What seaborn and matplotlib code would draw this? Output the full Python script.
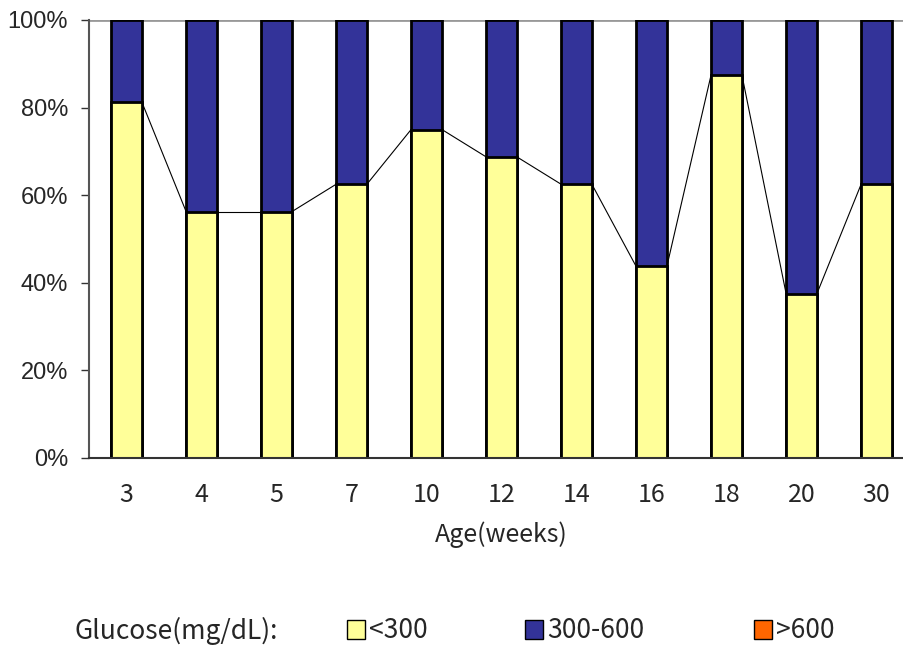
import numpy as np
import pandas as pd
import matplotlib.pyplot as plt
import seaborn as sns
from matplotlib.patches import Patch

# dados (% por idade)
ages = ['3', '4', '5', '7', '10', '12', '14', '16', '18', '20', '30']
low = [81.25, 56.25, 56.25, 62.5, 75.0, 68.75, 62.5, 43.75, 87.5, 37.5, 62.5]      # <300
mid = [18.75, 43.75, 43.75, 37.5, 25.0, 31.25, 37.5, 56.25, 12.5, 62.5, 37.5]      # 300-600
high = [0, 0, 0, 0, 0, 0, 0, 0, 0, 0, 0]                                            # >600

c_low = '#FFFF99'
c_mid = '#333399'
c_high = '#FF6600'

sns.set_style('white')
jp = ['Noto Sans CJK JP', 'DejaVu Sans']
arial = ['Liberation Sans', 'DejaVu Sans']

df = pd.DataFrame({'age': ages, 'low': low, 'mid': mid, 'high': high})
df['top'] = df['low'] + df['mid'] + df['high']

fig = plt.figure(figsize=(9.04, 6.46), dpi=100)
# eixo vai alem da borda direita, como no original
ax = fig.add_axes([89 / 904, 1 - 458 / 646, 825 / 904, 438 / 646])

w = 0.41
sns.barplot(data=df, x='age', y='top', color=c_mid, width=w, edgecolor='black',
            linewidth=2, saturation=1, ax=ax)
sns.barplot(data=df, x='age', y='low', color=c_low, width=w, edgecolor='black',
            linewidth=2, saturation=1, ax=ax)

# linhas de serie entre as barras
for i in range(len(ages) - 1):
    ax.plot([i + w / 2, i + 1 - w / 2], [low[i], low[i + 1]], color='black', lw=0.8)

ax.set_xlim(-0.5, len(ages) - 0.5)
ax.set_ylim(0, 100)
ax.set_yticks(np.arange(0, 101, 20))
ax.set_yticklabels([f'{v}%' for v in range(0, 101, 20)], family=arial, fontsize=17)
ax.set_xticks(range(len(ages)))
ax.set_xticklabels(ages, family=jp, fontsize=18)
ax.set_xticks(np.arange(-0.5, len(ages), 1), minor=True)
ax.tick_params(axis='x', which='major', length=0, pad=17)
ax.tick_params(axis='x', which='minor', length=6, width=1, color='#333333', direction='out')
ax.tick_params(axis='y', length=6, width=1, color='#333333', direction='out', left=True, pad=9)
ax.axhline(100, color='#999999', lw=2, zorder=0)

ax.set_xlabel('Age(weeks)', family=jp, fontsize=18, labelpad=10)
ax.set_ylabel('')

for s in ['top', 'right']:
    ax.spines[s].set_visible(False)
ax.spines['left'].set_color('#555555')
ax.spines['left'].set_linewidth(1.5)
ax.spines['bottom'].set_color('#333333')
ax.spines['bottom'].set_linewidth(1.5)

# legenda
ly = 1 - 631 / 646
fig.text(75 / 904, ly, 'Glucose(mg/dL):', family=jp, fontsize=19, va='center')
handles = [Patch(facecolor=c_low, edgecolor='black', label='<300'),
           Patch(facecolor=c_mid, edgecolor='black', label='300-600'),
           Patch(facecolor=c_high, edgecolor='black', label='>600')]
for h, x0 in zip(handles, [336, 514, 743]):
    fig.legend(handles=[h], loc='center left', bbox_to_anchor=(x0 / 904, ly),
               frameon=False, prop={'family': jp, 'size': 19}, borderaxespad=0,
               handlelength=0.7, handleheight=0.7, handletextpad=0.15)

fig.savefig('out.png', dpi=100)
